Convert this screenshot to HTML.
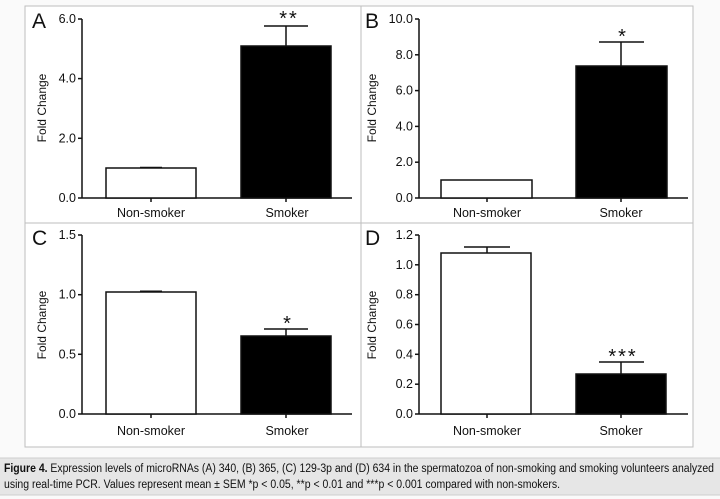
<!DOCTYPE html>
<html><head><meta charset="utf-8"><style>
body{margin:0;background:#fff;}
svg{display:block;}
text{font-family:"Liberation Sans","DejaVu Sans",sans-serif;fill:#111;}
</style></head><body>
<svg width="720" height="499" viewBox="0 0 720 499" xmlns="http://www.w3.org/2000/svg">
<rect x="0" y="0" width="720" height="499" fill="#fafafa"/>
<rect x="25" y="6" width="668" height="441" fill="#fff" stroke="#bdbdbd" stroke-width="1"/>
<line x1="361" y1="6" x2="361" y2="447" stroke="#bdbdbd"/>
<line x1="25" y1="223" x2="693" y2="223" stroke="#bdbdbd"/>
<rect x="0" y="458" width="720" height="37" fill="#e6e6e6"/>
<line x1="0" y1="458" x2="720" y2="458" stroke="#cfcfcf"/>
<line x1="0" y1="495" x2="720" y2="495" stroke="#cfcfcf"/>
<text x="4" y="472" font-size="11.5" textLength="710" lengthAdjust="spacingAndGlyphs"><tspan font-weight="bold">Figure 4.</tspan> Expression levels of microRNAs (A) 340, (B) 365, (C) 129-3p and (D) 634 in the spermatozoa of non-smoking and smoking volunteers analyzed</text>
<text x="4" y="488" font-size="11.5" textLength="556" lengthAdjust="spacingAndGlyphs">using real-time PCR. Values represent mean ± SEM *p &lt; 0.05, **p &lt; 0.01 and ***p &lt; 0.001 compared with non-smokers.</text>

<g stroke="#111" stroke-width="1.5" fill="none">
<!-- A -->
<line x1="82" y1="19" x2="82" y2="198"/><line x1="82" y1="198" x2="352" y2="198"/>
<line x1="78" y1="19" x2="82" y2="19"/><line x1="78" y1="78.6" x2="82" y2="78.6"/><line x1="78" y1="138.3" x2="82" y2="138.3"/><line x1="78" y1="198" x2="82" y2="198"/>
<line x1="151" y1="198" x2="151" y2="202"/><line x1="286" y1="198" x2="286" y2="202"/>
<rect x="106" y="168" width="90" height="30" fill="#fff"/>
<line x1="140" y1="167.5" x2="162" y2="167.5"/>
<rect x="241" y="46" width="90" height="152" fill="#000"/>
<line x1="286" y1="46" x2="286" y2="26"/><line x1="264" y1="26" x2="308" y2="26"/>
<!-- B -->
<line x1="419" y1="19" x2="419" y2="198"/><line x1="419" y1="198" x2="688" y2="198"/>
<line x1="415" y1="19" x2="419" y2="19"/><line x1="415" y1="54.8" x2="419" y2="54.8"/><line x1="415" y1="90.6" x2="419" y2="90.6"/><line x1="415" y1="126.4" x2="419" y2="126.4"/><line x1="415" y1="162.2" x2="419" y2="162.2"/><line x1="415" y1="198" x2="419" y2="198"/>
<line x1="487" y1="198" x2="487" y2="202"/><line x1="621" y1="198" x2="621" y2="202"/>
<rect x="441" y="180" width="91" height="18" fill="#fff"/>
<rect x="576" y="66" width="91" height="132" fill="#000"/>
<line x1="621" y1="66" x2="621" y2="42"/><line x1="599" y1="42" x2="644" y2="42"/>
<!-- C -->
<line x1="82" y1="235" x2="82" y2="414"/><line x1="82" y1="414" x2="352" y2="414"/>
<line x1="78" y1="235" x2="82" y2="235"/><line x1="78" y1="294.7" x2="82" y2="294.7"/><line x1="78" y1="354.3" x2="82" y2="354.3"/><line x1="78" y1="414" x2="82" y2="414"/>
<line x1="151" y1="414" x2="151" y2="418"/><line x1="286" y1="414" x2="286" y2="418"/>
<rect x="106" y="292" width="90" height="122" fill="#fff"/>
<line x1="140" y1="291.3" x2="162" y2="291.3"/>
<rect x="241" y="336" width="90" height="78" fill="#000"/>
<line x1="286" y1="336" x2="286" y2="329"/><line x1="264" y1="329" x2="308" y2="329"/>
<!-- D -->
<line x1="419" y1="235" x2="419" y2="414"/><line x1="419" y1="414" x2="688" y2="414"/>
<line x1="415" y1="235" x2="419" y2="235"/><line x1="415" y1="264.8" x2="419" y2="264.8"/><line x1="415" y1="294.7" x2="419" y2="294.7"/><line x1="415" y1="324.5" x2="419" y2="324.5"/><line x1="415" y1="354.3" x2="419" y2="354.3"/><line x1="415" y1="384.2" x2="419" y2="384.2"/><line x1="415" y1="414" x2="419" y2="414"/>
<line x1="487" y1="414" x2="487" y2="418"/><line x1="621" y1="414" x2="621" y2="418"/>
<rect x="441" y="253" width="90" height="161" fill="#fff"/>
<line x1="487" y1="253" x2="487" y2="247"/><line x1="464" y1="247" x2="510" y2="247"/>
<rect x="576" y="374" width="90" height="40" fill="#000"/>
<line x1="621" y1="374" x2="621" y2="362"/><line x1="599" y1="362" x2="644" y2="362"/>
</g>

<g font-size="12.5" text-anchor="end">
<text x="76" y="23">6.0</text><text x="76" y="82.6">4.0</text><text x="76" y="142.3">2.0</text><text x="76" y="202">0.0</text>
<text x="413" y="23">10.0</text><text x="413" y="58.8">8.0</text><text x="413" y="94.6">6.0</text><text x="413" y="130.4">4.0</text><text x="413" y="166.2">2.0</text><text x="413" y="202">0.0</text>
<text x="76" y="239">1.5</text><text x="76" y="298.7">1.0</text><text x="76" y="358.3">0.5</text><text x="76" y="418">0.0</text>
<text x="413" y="239">1.2</text><text x="413" y="268.8">1.0</text><text x="413" y="298.7">0.8</text><text x="413" y="328.5">0.6</text><text x="413" y="358.3">0.4</text><text x="413" y="388.2">0.2</text><text x="413" y="418">0.0</text>
</g>
<g font-size="12.5" text-anchor="middle">
<text x="151" y="217">Non-smoker</text><text x="287" y="217">Smoker</text>
<text x="487" y="217">Non-smoker</text><text x="621" y="217">Smoker</text>
<text x="151" y="435">Non-smoker</text><text x="287" y="435">Smoker</text>
<text x="487" y="435">Non-smoker</text><text x="621" y="435">Smoker</text>
</g>
<g font-size="12" text-anchor="middle">
<text transform="translate(46,108) rotate(-90)">Fold Change</text>
<text transform="translate(376,108) rotate(-90)">Fold Change</text>
<text transform="translate(46,325) rotate(-90)">Fold Change</text>
<text transform="translate(376,325) rotate(-90)">Fold Change</text>
</g>
<g font-size="21">
<text x="32" y="28">A</text><text x="365" y="28">B</text><text x="32" y="245">C</text><text x="365" y="245">D</text>
</g>
<g font-size="20" text-anchor="middle" letter-spacing="2">
<text x="289" y="25">**</text><text x="623" y="43">*</text><text x="288" y="330">*</text><text x="623" y="363">***</text>
</g>
</svg>
</body></html>
